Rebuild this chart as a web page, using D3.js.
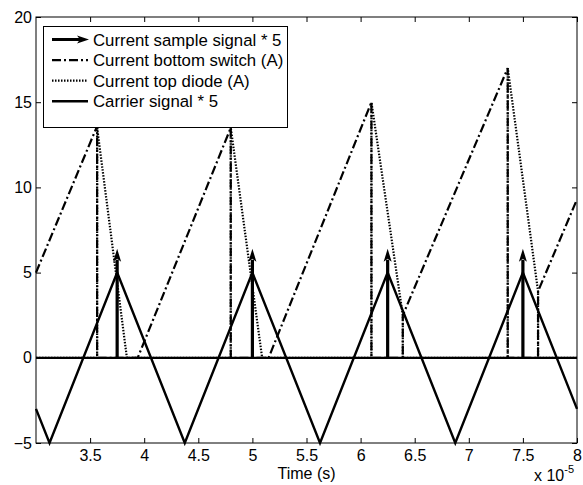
<!DOCTYPE html>
<html>
<head>
<meta charset="utf-8">
<script src="https://cdn.jsdelivr.net/npm/d3@7"></script>
<style>
  body { margin: 0; background: #fff; }
  svg { display: block; font-family: "Liberation Sans", Arial, sans-serif; }
</style>
</head>
<body>
<div id="chart"></div>
<script>
// Time axis is in units of 1e-5 s (shown as "x 10^-5")
const xTicks = [3.5, 4, 4.5, 5, 5.5, 6, 6.5, 7, 7.5, 8];
const yTicks = [-5, 0, 5, 10, 15, 20];

// Carrier signal * 5 (triangle wave)
const carrierT = [3.0, 3.125, 3.75, 4.375, 5.0, 5.625, 6.25, 6.875, 7.5, 8.0];
const carrierV = [-3, -5, 5, -5, 5, -5, 5, -5, 5, -3];

// Current bottom switch (A)
const switchT = [3.0, 3.565, 3.565, 3.94, 4.80, 4.80, 5.15, 6.10, 6.10, 6.39, 6.39, 7.36, 7.36, 7.64, 7.64, 8.0];
const switchI = [5.0, 13.6, 0, 0, 13.5, 0, 0, 15.0, 0, 0, 2.5, 17.0, 0, 0, 3.9, 9.3];

// Current top diode (A)
const diodeT = [3.0, 3.565, 3.565, 3.84, 4.80, 4.80, 5.09, 6.10, 6.10, 6.39, 6.39, 7.36, 7.36, 7.64, 7.64, 8.0];
const diodeI = [0, 0, 13.5, 0, 0, 13.5, 0, 0, 15.0, 2.5, 0, 0, 17.0, 3.9, 0, 0];

// Current sample signal * 5 (arrows; value is arrow tip)
const sampleT = [3.75, 5.0, 6.25, 7.5];
const sampleV = [6.4, 6.4, 6.4, 6.4];

const legendLabels = [
  'Current sample signal * 5',
  'Current bottom switch (A)',
  'Current top diode (A)',
  'Carrier signal * 5'
];

const width = 583, height = 485;
const margin = { top: 17, right: 6, bottom: 42, left: 36 };

const svg = d3.select('#chart').append('svg')
  .attr('width', width)
  .attr('height', height);

const x = d3.scaleLinear().domain([3, 8]).range([margin.left, width - margin.right]);
const y = d3.scaleLinear().domain([-5, 20]).range([height - margin.bottom, margin.top]);

const zip = (a, b) => a.map((v, i) => [v, b[i]]);
const line = d3.line().x(d => x(d[0])).y(d => y(d[1]));

const plot = svg.append('g');

// zero line (sample signal baseline)
plot.append('path')
  .datum([[3, 0], [8, 0]])
  .attr('d', line)
  .attr('fill', 'none')
  .attr('stroke', '#000')
  .attr('stroke-width', 2.2);

// bottom switch current
plot.append('path')
  .datum(zip(switchT, switchI))
  .attr('d', line)
  .attr('fill', 'none')
  .attr('stroke', '#000')
  .attr('stroke-width', 2.2)
  .attr('stroke-dasharray', '9,3,2,3');

// top diode current
plot.append('path')
  .datum(zip(diodeT, diodeI))
  .attr('d', line)
  .attr('fill', 'none')
  .attr('stroke', '#000')
  .attr('stroke-width', 2.2)
  .attr('stroke-dasharray', '1.5,1.5');

// carrier
plot.append('path')
  .datum(zip(carrierT, carrierV))
  .attr('d', line)
  .attr('fill', 'none')
  .attr('stroke', '#000')
  .attr('stroke-width', 2.4)
  .attr('stroke-linejoin', 'miter');

// sample arrows
const headLen = 13, headHalf = 4;
const arrows = plot.selectAll('g.arrow')
  .data(zip(sampleT, sampleV))
  .enter().append('g').attr('class', 'arrow');

arrows.append('line')
  .attr('x1', d => x(d[0]))
  .attr('x2', d => x(d[0]))
  .attr('y1', y(0))
  .attr('y2', d => y(d[1]) + headLen - 2)
  .attr('stroke', '#000')
  .attr('stroke-width', 3.2);

arrows.append('path')
  .attr('d', d => {
    const px = x(d[0]), py = y(d[1]);
    return `M${px},${py}L${px - headHalf},${py + headLen}L${px},${py + headLen - 3}L${px + headHalf},${py + headLen}Z`;
  })
  .attr('fill', '#000');

// axes (ticks inward on all four sides)
const fontSize = '16px';
const xAxis = svg.append('g')
  .attr('transform', `translate(0,${y(-5)})`)
  .call(d3.axisBottom(x).tickValues(xTicks).tickSize(-5).tickPadding(7).tickFormat(d3.format('')));
const xTop = svg.append('g')
  .attr('transform', `translate(0,${y(20)})`)
  .call(d3.axisTop(x).tickValues(xTicks).tickSize(-5).tickFormat(''));
const yAxis = svg.append('g')
  .attr('transform', `translate(${x(3)},0)`)
  .call(d3.axisLeft(y).tickValues(yTicks).tickSize(-5).tickPadding(4));
const yRight = svg.append('g')
  .attr('transform', `translate(${x(8)},0)`)
  .call(d3.axisRight(y).tickValues(yTicks).tickSize(-5).tickFormat(''));

[xAxis, xTop, yAxis, yRight].forEach(a => {
  a.select('.domain').remove();
  a.selectAll('line').attr('stroke', '#000');
  a.selectAll('text')
    .attr('fill', '#000')
    .style('font-size', fontSize)
    .style('font-family', '"Liberation Sans", Arial, sans-serif');
});

// axes box
svg.append('rect')
  .attr('x', x(3))
  .attr('y', y(20))
  .attr('width', x(8) - x(3))
  .attr('height', y(-5) - y(20))
  .attr('fill', 'none')
  .attr('stroke', '#000')
  .attr('stroke-width', 1);

// axis labels
svg.append('text')
  .attr('x', (x(3) + x(8)) / 2)
  .attr('y', 479)
  .attr('text-anchor', 'middle')
  .style('font-size', fontSize)
  .text('Time (s)');

const expo = svg.append('text')
  .attr('x', 534)
  .attr('y', 481)
  .style('font-size', fontSize);
expo.append('tspan').text('x 10');
expo.append('tspan').attr('dy', -8).style('font-size', '11px').text('-5');

// legend
const lg = svg.append('g');
lg.append('rect')
  .attr('x', 43.5)
  .attr('y', 26.5)
  .attr('width', 244)
  .attr('height', 101)
  .attr('fill', '#fff')
  .attr('stroke', '#000')
  .attr('stroke-width', 1);

const rowY = i => 39.5 + i * 20.6;
const styles = [
  { dash: null, w: 3 },
  { dash: '9,3,2,3', w: 2.2 },
  { dash: '1.5,1.5', w: 2.2 },
  { dash: null, w: 2.4 }
];

legendLabels.forEach((label, i) => {
  const ly = rowY(i);
  lg.append('line')
    .attr('x1', 52).attr('x2', i === 0 ? 80 : 88)
    .attr('y1', ly).attr('y2', ly)
    .attr('stroke', '#000')
    .attr('stroke-width', styles[i].w)
    .attr('stroke-dasharray', styles[i].dash);
  if (i === 0) {
    lg.append('path')
      .attr('d', `M89,${ly}L77,${ly - 4}L80,${ly}L77,${ly + 4}Z`)
      .attr('fill', '#000');
  }
  lg.append('text')
    .attr('x', 93)
    .attr('y', ly)
    .attr('dy', '0.36em')
    .style('font-size', '16.8px')
    .text(label);
});
</script>
</body>
</html>
